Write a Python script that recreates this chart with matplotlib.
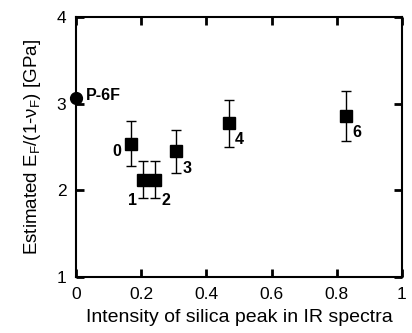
import numpy as np
import matplotlib
matplotlib.use('Agg')
import matplotlib.pyplot as plt

plt.rcParams['font.family'] = ['Liberation Sans', 'DejaVu Sans']
plt.rcParams['mathtext.fontset'] = 'custom'
plt.rcParams['mathtext.rm'] = 'Liberation Sans'
plt.rcParams['mathtext.it'] = 'Liberation Sans:italic'

# samples 0-6
labels = ['0', '1', '2', '3', '4', '6']
silica = [0.168, 0.204, 0.242, 0.308, 0.468, 0.827]
modulus = [2.54, 2.125, 2.125, 2.45, 2.775, 2.86]
err = [0.26, 0.21, 0.21, 0.245, 0.27, 0.29]
# label offsets in points
offsets = [(-10, -6), (-7, -15), (8, -15), (8, -12), (8, -12), (8, -12)]

# reference film
ref_label = 'P-6F'
ref_x = [0.0]
ref_y = [3.065]

fig = plt.figure(figsize=(4.12, 3.33), dpi=100)
ax = fig.add_axes([0.1845, 0.168, 0.7912, 0.781])

ax.errorbar(silica, modulus, yerr=err, fmt='s', color='black', ms=9,
            ecolor='black', elinewidth=1, capsize=3.5, capthick=1)
ax.plot(ref_x, ref_y, 'o', color='black', ms=8.5, clip_on=False, zorder=5)

for lab, xv, yv, off in zip(labels, silica, modulus, offsets):
    ax.annotate(lab, (xv, yv), xytext=off, textcoords='offset points',
                ha='center', va='center', fontsize=11.5, fontweight='bold')
ax.annotate(ref_label, (ref_x[0], ref_y[0]), xytext=(7, 2),
            textcoords='offset points', ha='left', va='center',
            fontsize=11.5, fontweight='bold')

ax.set_xlim(0, 1)
ax.set_ylim(1, 4)
ax.set_xticks([0, 0.2, 0.4, 0.6, 0.8, 1])
ax.set_xticklabels(['0', '0.2', '0.4', '0.6', '0.8', '1'])
ax.set_yticks([1, 2, 3, 4])
ax.tick_params(direction='in', length=6, width=2, top=True, right=True,
               labelsize=12.5, pad=7)
for s in ax.spines.values():
    s.set_linewidth(1.5)

ax.set_xlabel('Intensity of silica peak in IR spectra', fontsize=14, labelpad=5)
ax.set_ylabel(r'Estimated E$_\mathregular{F}$/(1-$\mathregular{\nu}_\mathregular{F}$) [GPa]',
              fontsize=13.5, labelpad=10)

fig.savefig('out.png', dpi=100)
